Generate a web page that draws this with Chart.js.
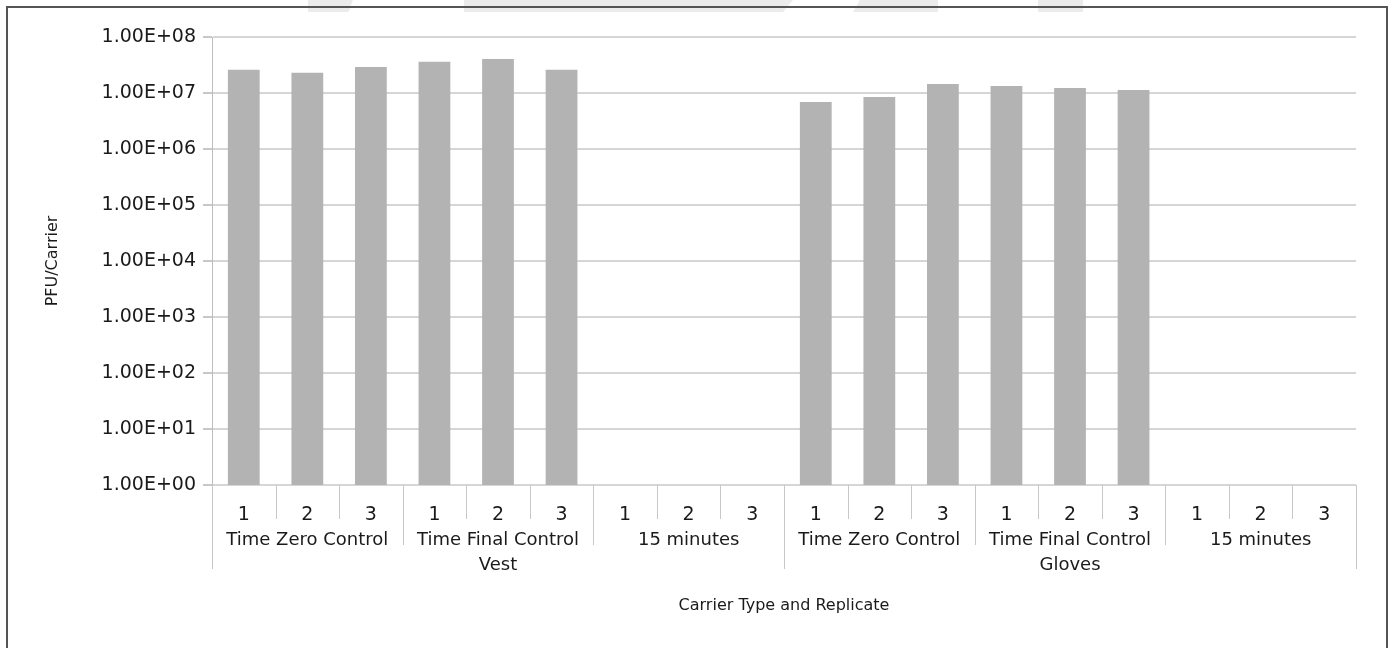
<!DOCTYPE html>
<html>
<head>
<meta charset="utf-8">
<title>PFU/Carrier by Carrier Type and Replicate</title>
<script src="https://cdn.jsdelivr.net/npm/chart.js@4.4.1/dist/chart.umd.min.js"></script>
<style>
    html, body { margin: 0; padding: 0; background: #fff; }
    body { width: 1390px; height: 648px; overflow: hidden; position: relative; }
    .mark { position: absolute; top: 0; height: 12px; background: #ececec; }
    #frame { position: absolute; left: 6px; top: 6px; width: 1378px; height: 700px; border: 2px solid #555; }
    #chart { position: absolute; left: 0; top: 0; }
</style>
</head>
<body>
<!-- faint watermark fragments along the top edge -->
<div class="mark" style="left:308px;width:45px;clip-path:polygon(0 0,100% 0,90% 100%,0 100%)"></div>
<div class="mark" style="left:464px;width:329px;clip-path:polygon(0 0,100% 0,97% 100%,0 100%)"></div>
<div class="mark" style="left:853px;width:85px;clip-path:polygon(8% 0,100% 0,100% 100%,0 100%)"></div>
<div class="mark" style="left:1038px;width:45px"></div>
<div id="frame"></div>
<canvas id="chart" width="1390" height="648"></canvas>
<script>
// Chart data
const replicates = ['1', '2', '3', '1', '2', '3', '1', '2', '3',
                    '1', '2', '3', '1', '2', '3', '1', '2', '3'];
const groupLabels = ['Time Zero Control', 'Time Final Control', '15 minutes',
                     'Time Zero Control', 'Time Final Control', '15 minutes'];
const carrierLabels = ['Vest', 'Gloves'];
const pfuValues = [2.6e7, 2.3e7, 2.9e7, 3.6e7, 4.05e7, 2.6e7, null, null, null,
                   6.9e6, 8.5e6, 1.45e7, 1.33e7, 1.23e7, 1.13e7, null, null, null];
const yTickValues = [1, 10, 100, 1e3, 1e4, 1e5, 1e6, 1e7, 1e8];
const yTickLabels = ['1.00E+00', '1.00E+01', '1.00E+02', '1.00E+03', '1.00E+04',
                     '1.00E+05', '1.00E+06', '1.00E+07', '1.00E+08'];

// Style settings
const fontFamily = "'DejaVu Sans', sans-serif";
const chartColors = {
    bar: '#b3b3b3',
    grid: '#d6d6d6',
    axis: '#bdbdbd',
    divider: '#c8c8c8',
    text: '#1a1a1a'
};

/**
 * Draws the three-level category axis (replicate, time group, carrier type)
 */
const groupAxisPlugin = {
    id: 'groupAxis',
    afterDraw(chart) {
        const { ctx, chartArea, scales: { x } } = chart;
        const base = chartArea.bottom;
        const half = (x.getPixelForValue(1) - x.getPixelForValue(0)) / 2;
        const edge = i => x.getPixelForValue(i) - half;

        ctx.save();
        ctx.strokeStyle = chartColors.divider;
        ctx.lineWidth = 1;
        for (let i = 0; i <= replicates.length; i++) {
            let len = 34;
            if (i % 3 === 0) len = 60;
            if (i % 9 === 0) len = 84;
            const px = Math.round(edge(i)) + 0.5;
            ctx.beginPath();
            ctx.moveTo(px, base);
            ctx.lineTo(px, base + len);
            ctx.stroke();
        }

        ctx.fillStyle = chartColors.text;
        ctx.textAlign = 'center';
        ctx.textBaseline = 'alphabetic';

        ctx.font = '19px ' + fontFamily;
        replicates.forEach((r, i) => {
            ctx.fillText(r, x.getPixelForValue(i), base + 35);
        });

        ctx.font = '18px ' + fontFamily;
        groupLabels.forEach((g, j) => {
            ctx.fillText(g, (edge(j * 3) + edge(j * 3 + 3)) / 2, base + 60);
        });
        carrierLabels.forEach((c, k) => {
            ctx.fillText(c, (edge(k * 9) + edge(k * 9 + 9)) / 2, base + 85);
        });
        ctx.restore();
    }
};

new Chart(document.getElementById('chart'), {
    type: 'bar',
    data: {
        labels: replicates,
        datasets: [{
            label: 'PFU/Carrier',
            data: pfuValues,
            backgroundColor: chartColors.bar,
            borderWidth: 0,
            barPercentage: 0.5,
            categoryPercentage: 1.0
        }]
    },
    options: {
        responsive: false,
        animation: false,
        layout: {
            padding: { left: 0, top: 37, right: 34, bottom: 0 }
        },
        plugins: {
            legend: { display: false },
            tooltip: { enabled: false }
        },
        scales: {
            x: {
                offset: true,
                grid: { display: false, drawTicks: false },
                border: { display: false },
                ticks: { display: false },
                title: {
                    display: true,
                    text: 'Carrier Type and Replicate',
                    color: chartColors.text,
                    font: { family: fontFamily, size: 16 },
                    padding: { top: 0, bottom: 33 }
                },
                afterFit: scale => { scale.height = 163; }
            },
            y: {
                type: 'logarithmic',
                min: 1,
                max: 1e8,
                afterBuildTicks: scale => {
                    scale.ticks = yTickValues.map(v => ({ value: v }));
                },
                ticks: {
                    callback: (value, index) => yTickLabels[index],
                    color: chartColors.text,
                    font: { family: fontFamily, size: 19 },
                    padding: 7
                },
                grid: {
                    color: chartColors.grid,
                    lineWidth: 2,
                    tickLength: 9,
                    tickColor: chartColors.divider
                },
                border: { display: true, color: chartColors.axis, width: 1 },
                title: {
                    display: true,
                    text: 'PFU/Carrier',
                    color: chartColors.text,
                    font: { family: fontFamily, size: 16 },
                    padding: { top: 43, bottom: 0 }
                },
                afterFit: scale => { scale.width = 212; }
            }
        }
    },
    plugins: [groupAxisPlugin]
});
</script>
</body>
</html>
